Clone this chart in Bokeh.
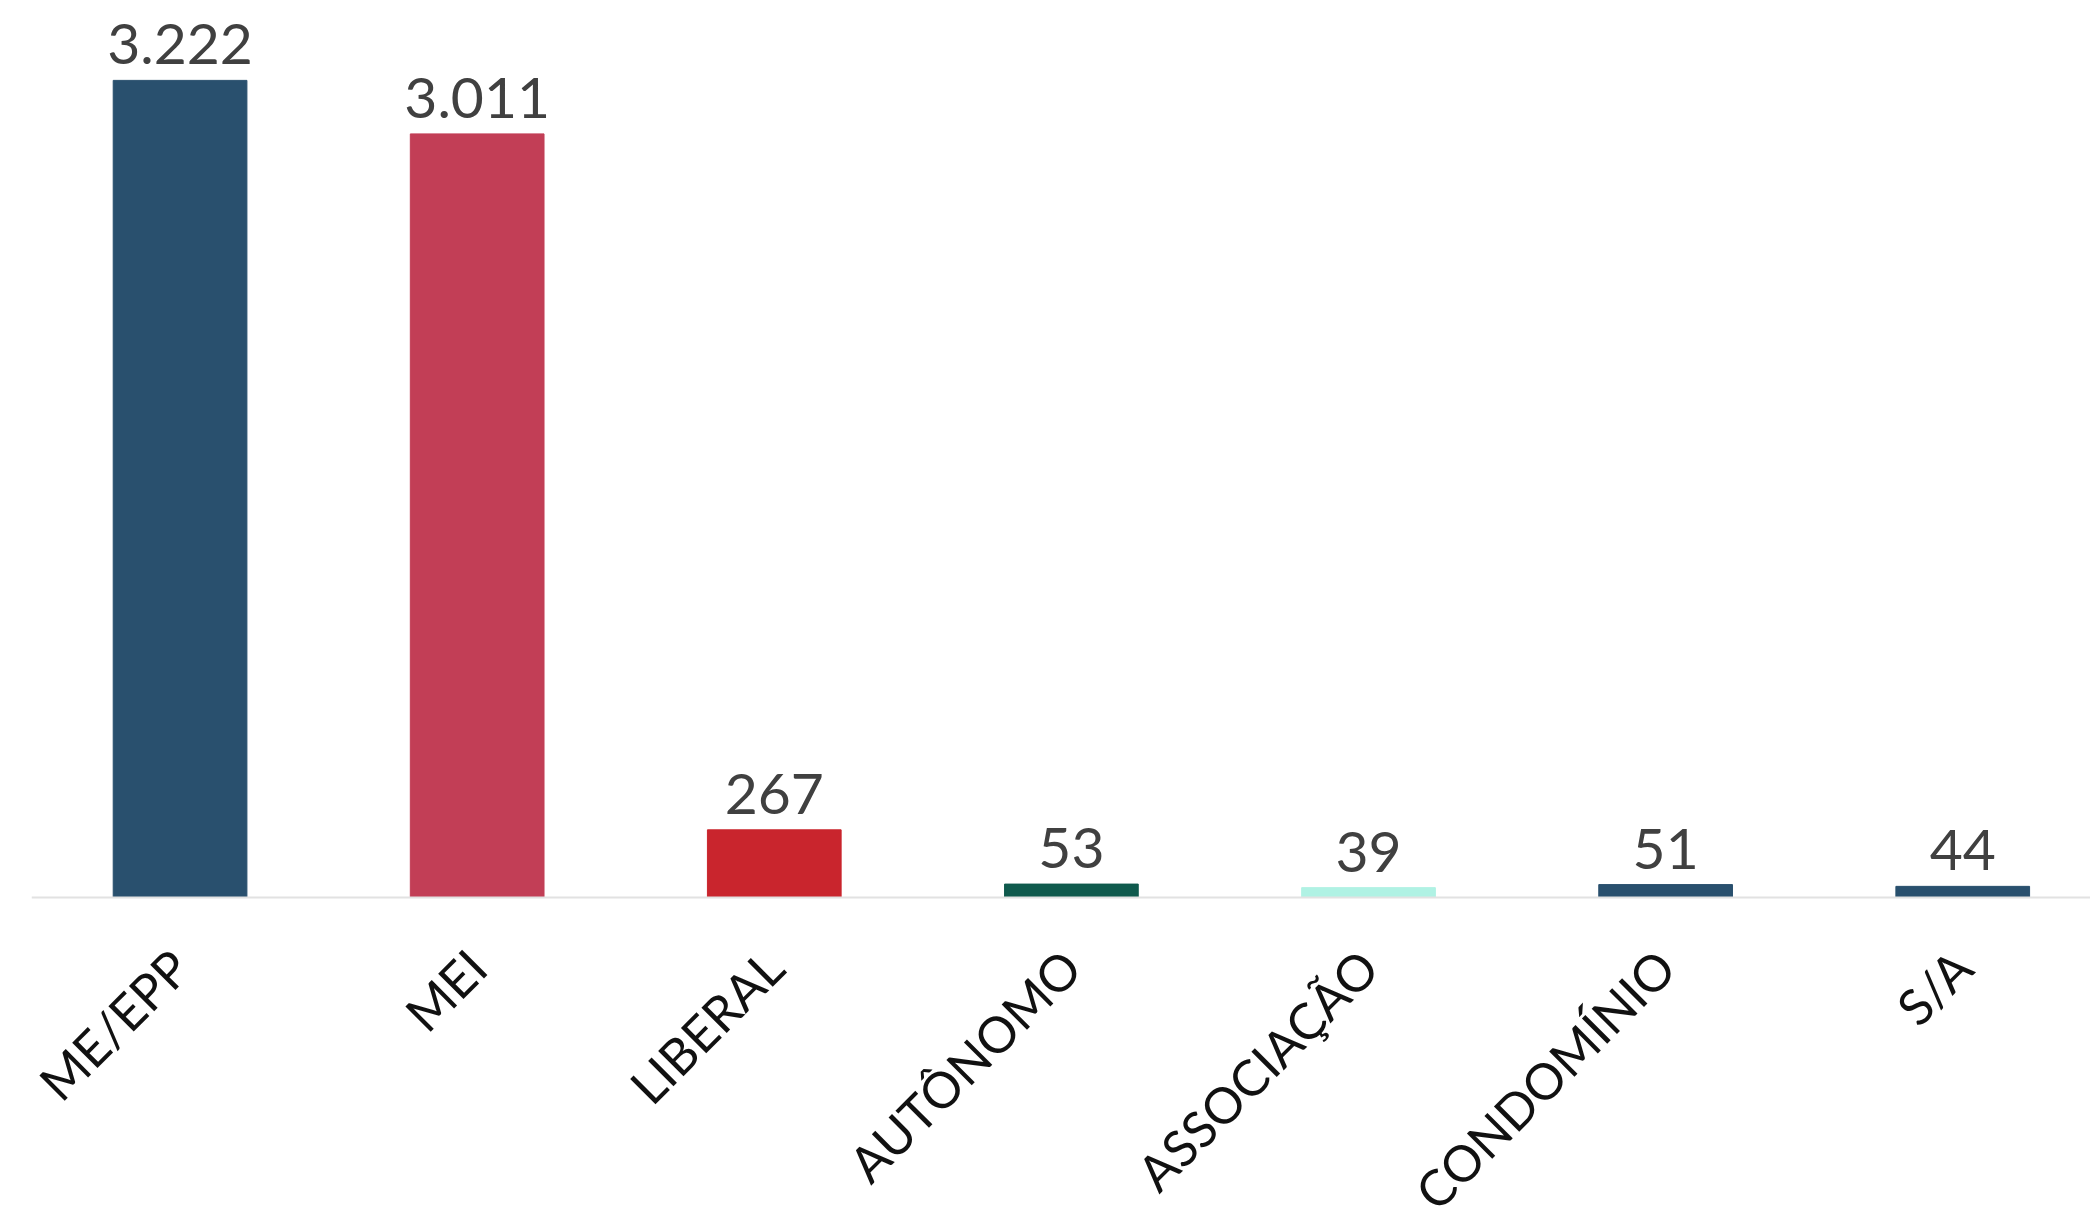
import math
from bokeh.plotting import figure
from bokeh.models import ColumnDataSource, Range1d, FixedTicker
from bokeh.core.properties import value
from bokeh.embed import file_html
from bokeh.resources import INLINE

categories = ["ME/EPP", "MEI", "LIBERAL", "AUTÔNOMO", "ASSOCIAÇÃO", "CONDOMÍNIO", "S/A"]
counts = [3222, 3011, 267, 53, 39, 51, 44]
colors = ["#29506e", "#c23e56", "#c9252d", "#0f5a4d", "#b0f2e4", "#29506e", "#29506e"]

xs = list(range(len(categories)))
labels = [f"{v:,}".replace(",", ".") for v in counts]

src = ColumnDataSource(dict(x=xs, top=counts, color=colors, label=labels))

p = figure(width=2090, height=1211, output_backend="svg", toolbar_location=None,
           x_range=Range1d(-0.5, 6.43), y_range=Range1d(-1238, 3537),
           min_border_left=31, min_border_right=0, min_border_top=0, min_border_bottom=0)
p.outline_line_color = None
p.grid.visible = False
p.yaxis.visible = False

p.vbar(x="x", top="top", bottom=0, width=0.45, color="color", source=src)
p.text(x="x", y="top", text="label", source=src, text_align="center", text_baseline="bottom",
       y_offset=-16, text_font=value("Lato"), text_font_size="57px", text_color="#404040")

ax = p.xaxis[0]
ax.fixed_location = 0
ax.ticker = FixedTicker(ticks=xs)
ax.major_label_overrides = {i: c for i, c in zip(xs, categories)}
ax.major_label_orientation = math.pi / 4
ax.major_label_text_font = "Lato"
ax.major_label_text_font_size = "50px"
ax.major_label_text_color = "#111111"
ax.major_label_standoff = 55
ax.major_tick_line_color = None
ax.minor_tick_line_color = None
ax.axis_line_color = "#e2e2e2"
ax.axis_line_width = 2

open("out.html", "w").write(file_html(p, INLINE))
